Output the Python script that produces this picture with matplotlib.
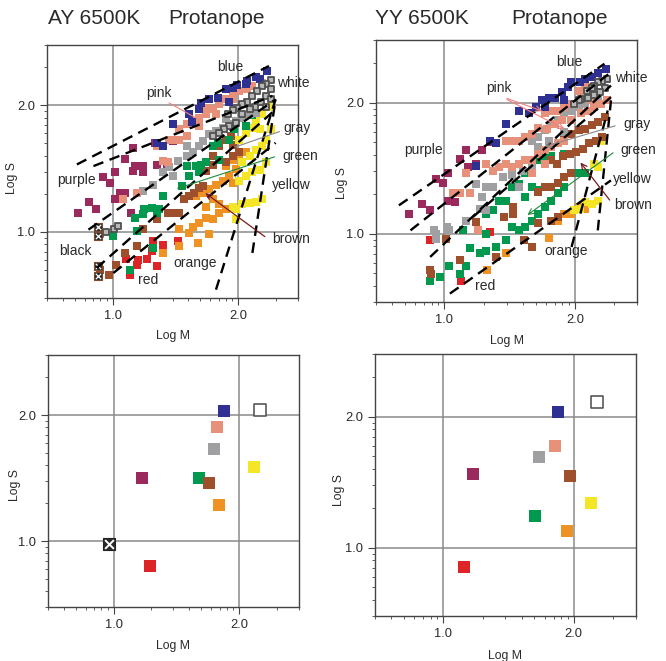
import numpy as np
import matplotlib.pyplot as plt

plt.rcParams['font.family'] = ['Liberation Sans', 'DejaVu Sans']

# ---------------- data (log units) ----------------
# AY 6500K, individual color namings
ay_blue = [(2.23, 2.27), (2.17, 2.21), (2.14, 2.22), (2.07, 2.19), (1.99, 2.16), (1.96, 2.14),
           (1.90, 2.13), (1.84, 2.06), (1.77, 2.05), (1.70, 2.02), (1.69, 1.97), (1.63, 1.87),
           (1.48, 1.85), (1.35, 1.70), (1.40, 1.68), (1.93, 2.03), (1.61, 1.93), (2.06, 2.17)]
ay_pink = [(2.19, 2.18), (2.11, 2.15), (2.07, 2.13), (2.01, 2.11), (1.96, 2.09), (1.90, 2.05),
           (1.85, 2.01), (1.80, 1.97), (1.74, 1.93), (1.69, 1.90), (1.64, 1.88), (1.59, 1.85),
           (1.53, 1.81), (1.49, 1.73), (1.44, 1.55), (1.40, 1.56), (1.19, 1.31), (1.08, 1.26),
           (1.74, 1.98), (1.96, 2.05), (1.82, 1.93), (1.69, 1.84), (1.59, 1.76), (1.53, 1.73),
           (1.45, 1.73), (1.35, 1.68)]
ay_gray = [(2.14, 1.94), (2.09, 1.93), (2.03, 1.90), (1.98, 1.88), (1.93, 1.85), (1.88, 1.82),
           (1.82, 1.80), (1.77, 1.77), (1.72, 1.72), (1.69, 1.68), (1.64, 1.63), (1.59, 1.60),
           (1.52, 1.56), (1.45, 1.51), (1.40, 1.47), (1.32, 1.37), (1.24, 1.32), (1.48, 1.44),
           (1.59, 1.68), (1.90, 1.89)]
ay_white = [(2.26, 2.20), (2.22, 2.17), (2.19, 2.15), (2.15, 2.11), (2.11, 2.07), (2.07, 2.03),
            (2.03, 2.01), (1.99, 1.98), (1.96, 1.96), (1.92, 1.93), (2.26, 2.13), (2.22, 2.07),
            (2.18, 2.03), (2.13, 1.99), (2.09, 1.97), (2.03, 1.93), (1.98, 1.86), (1.93, 1.84),
            (1.89, 1.81), (1.85, 1.78), (1.80, 1.76), (2.26, 2.05), (2.22, 1.99),
            (0.90, 0.98), (0.95, 1.00), (1.01, 1.02), (1.04, 1.05)]
ay_black = [(0.88, 1.04), (0.88, 0.97), (0.88, 0.73), (0.88, 0.65)]
ay_purple = [(0.72, 1.15), (0.81, 1.24), (0.87, 1.18), (0.92, 1.43), (0.98, 1.39), (1.02, 1.47),
             (1.02, 1.26), (1.06, 1.31), (1.10, 1.31), (1.10, 1.58), (1.16, 1.66), (1.18, 1.52),
             (1.16, 1.48), (1.24, 1.52), (1.24, 1.47), (1.35, 1.53), (1.40, 1.56), (1.43, 1.51),
             (1.34, 1.70), (1.39, 1.68), (1.15, 1.15), (1.53, 1.73), (1.48, 1.72)]
ay_green = [(1.00, 0.97), (1.14, 0.70), (1.18, 1.11), (1.24, 1.14), (1.25, 1.18), (1.31, 1.19),
            (1.35, 1.15), (1.37, 1.18), (1.40, 1.28), (1.48, 1.44), (1.55, 1.36), (1.59, 1.52),
            (1.61, 1.44), (1.66, 1.52), (1.70, 1.53), (1.74, 1.55), (1.80, 1.68), (1.84, 1.70),
            (1.93, 1.73), (1.97, 1.81), (2.06, 1.84), (2.11, 1.92), (1.32, 0.87), (1.19, 1.01),
            (1.69, 1.47), (1.85, 1.57)]
ay_yellow = [(2.25, 1.99), (2.19, 1.93), (2.14, 1.88), (2.11, 1.82), (2.06, 1.78), (2.01, 1.73),
             (2.22, 1.73), (2.19, 1.68), (2.14, 1.65), (2.09, 1.60), (2.03, 1.55), (2.22, 1.55),
             (2.17, 1.49), (2.11, 1.47), (2.06, 1.44), (2.01, 1.40), (2.19, 1.26), (2.14, 1.24),
             (2.09, 1.23), (2.03, 1.22), (1.98, 1.18), (1.98, 1.10), (1.96, 1.20), (2.17, 1.81),
             (2.26, 1.81)]
ay_brown = [(1.94, 1.76), (1.90, 1.73), (1.85, 1.68), (1.80, 1.60), (2.01, 1.63), (1.96, 1.60),
            (1.90, 1.55), (1.85, 1.57), (1.80, 1.53), (1.74, 1.48), (1.69, 1.35), (1.65, 1.31),
            (1.61, 1.28), (1.57, 1.26), (1.53, 1.15), (1.48, 1.15), (1.44, 1.15), (1.35, 1.10),
            (1.24, 1.02), (1.19, 0.89), (1.10, 0.83), (1.03, 0.74), (0.97, 0.66), (0.90, 0.70),
            (1.72, 1.36), (1.96, 1.69)]
ay_orange = [(2.06, 1.63), (2.01, 1.60), (1.96, 1.57), (1.90, 1.52), (1.98, 1.50), (1.93, 1.44),
             (1.88, 1.40), (1.82, 1.37), (1.77, 1.34), (1.72, 1.31), (1.66, 1.28), (1.96, 1.39),
             (1.90, 1.18), (1.85, 1.15), (1.80, 1.10), (1.74, 1.11), (1.69, 1.07), (1.64, 1.04),
             (1.61, 0.99), (1.53, 1.02), (1.68, 0.91), (1.53, 0.89), (1.40, 0.83), (1.77, 0.98),
             (1.85, 1.22), (1.80, 1.26), (1.74, 1.20)]
ay_red = [(1.11, 0.79), (1.14, 0.66), (1.20, 0.78), (1.19, 0.74), (1.27, 0.79), (1.31, 0.85),
          (1.35, 0.73), (1.40, 0.90), (1.52, 0.93), (1.32, 0.93)]

# YY 6500K, individual color namings
yy_blue = [(2.24, 2.26), (2.18, 2.23), (2.13, 2.20), (2.08, 2.18), (2.04, 2.16), (1.97, 2.16),
           (1.95, 2.12), (1.90, 2.08), (1.85, 2.04), (1.80, 2.04), (1.75, 2.02), (1.70, 1.97),
           (1.65, 1.92), (1.57, 1.94), (1.47, 1.84), (1.35, 1.71), (1.40, 1.69), (1.24, 1.52),
           (1.92, 2.02), (1.77, 1.97)]
yy_pink = [(2.25, 2.02), (2.20, 1.99), (2.15, 1.97), (2.10, 1.94), (2.05, 1.92), (1.97, 1.87),
           (1.92, 1.97), (1.87, 1.94), (1.82, 1.94), (1.77, 1.92), (1.97, 1.99), (2.03, 2.09),
           (2.08, 2.12), (2.13, 2.12), (1.92, 1.71), (1.87, 1.69), (1.82, 1.66), (1.77, 1.64),
           (1.72, 1.61), (1.67, 1.56), (1.62, 1.56), (1.57, 1.53), (1.52, 1.51), (1.47, 1.53),
           (1.42, 1.51), (1.37, 1.48), (1.32, 1.53), (1.77, 1.53), (1.67, 1.46), (1.62, 1.74),
           (1.57, 1.71), (1.52, 1.71), (1.47, 1.71), (1.17, 1.46), (1.12, 1.31), (1.07, 1.31),
           (1.20, 1.31), (1.26, 1.03), (2.13, 2.02), (1.67, 1.76), (1.72, 1.81), (1.79, 1.80),
           (1.85, 1.84), (1.90, 1.87)]
yy_gray = [(2.18, 2.04), (2.13, 2.02), (2.08, 1.99), (2.03, 1.97), (1.97, 1.94), (1.92, 1.92),
           (1.87, 1.87), (1.82, 1.84), (1.77, 1.79), (1.72, 1.74), (1.67, 1.71), (1.67, 1.51),
           (1.60, 1.48), (1.52, 1.45), (1.45, 1.43), (1.37, 1.36), (1.32, 1.36), (1.24, 1.38),
           (1.32, 1.18), (1.27, 1.19), (1.17, 1.10), (1.04, 1.03), (1.02, 1.05), (0.94, 1.00),
           (0.92, 1.03), (0.94, 0.96), (1.29, 1.28), (1.57, 1.36), (1.72, 1.66), (1.80, 1.71),
           (1.92, 1.78)]
yy_white = [(2.25, 2.18), (2.21, 2.17), (2.18, 2.16), (2.15, 2.13), (2.13, 2.11), (2.09, 2.09),
            (2.23, 2.11), (2.19, 2.08), (2.15, 2.06), (2.10, 2.04), (2.05, 2.03), (2.03, 2.02),
            (1.99, 1.99)]
yy_purple = [(0.73, 1.15), (0.83, 1.23), (0.89, 1.18), (0.94, 1.42), (0.99, 1.39), (1.03, 1.46),
             (1.03, 1.25), (1.08, 1.24), (1.12, 1.57), (1.17, 1.64), (1.18, 1.51), (1.24, 1.53),
             (1.35, 1.70), (1.29, 1.64)]
yy_green = [(1.92, 1.61), (1.82, 1.59), (1.77, 1.59), (1.72, 1.56), (1.67, 1.51), (1.62, 1.46),
            (1.57, 1.38), (1.52, 1.36), (1.47, 1.25), (1.42, 1.25), (1.37, 1.18), (1.32, 1.15),
            (1.67, 1.36), (1.72, 1.33), (1.62, 1.28), (2.08, 1.46), (2.03, 1.46), (1.92, 1.36),
            (1.87, 1.31), (1.82, 1.25), (1.77, 1.20), (1.72, 1.15), (1.67, 1.10), (1.62, 1.05),
            (1.57, 1.03), (1.52, 1.05), (1.47, 0.95), (1.40, 0.90), (1.32, 0.87), (1.27, 0.85),
            (1.20, 0.89), (1.17, 0.75), (1.12, 0.69), (1.04, 0.75), (0.97, 0.67), (0.89, 0.64),
            (1.32, 1.00), (1.14, 1.03)]
yy_brown = [(2.23, 1.89), (2.18, 1.85), (2.13, 1.83), (2.08, 1.80), (2.03, 1.79), (1.97, 1.76),
            (1.92, 1.74), (2.21, 1.74), (2.16, 1.71), (2.11, 1.69), (2.06, 1.65), (2.01, 1.62),
            (1.96, 1.61), (1.91, 1.59), (1.86, 1.53), (1.82, 1.56), (1.97, 1.46), (1.92, 1.43),
            (1.87, 1.39), (1.82, 1.36), (1.77, 1.36), (1.72, 1.32), (1.53, 1.20), (1.46, 1.13),
            (1.53, 1.15), (1.24, 1.09), (1.72, 1.08), (1.82, 1.10), (1.87, 1.13), (1.67, 0.90),
            (1.61, 0.95), (1.40, 0.82), (1.12, 0.80), (0.89, 0.72), (0.90, 0.69), (1.01, 0.96)]
yy_orange = [(1.92, 1.15), (1.97, 1.15), (1.87, 1.10), (1.80, 0.97), (1.47, 0.85), (1.33, 0.72),
             (2.10, 1.23), (2.03, 1.20), (2.08, 1.19)]
yy_yellow = [(2.18, 1.25), (2.13, 1.23), (2.08, 1.24), (2.04, 1.19), (2.20, 1.71), (2.18, 1.51),
             (2.15, 1.53), (1.99, 1.18)]
yy_red = [(1.13, 0.64), (0.89, 0.95), (1.35, 1.01)]

# category means (bottom panels)
cats = ['blue', 'white', 'pink', 'gray', 'yellow', 'purple', 'green', 'brown', 'orange', 'black', 'red']
ay_mean_m = [1.88, 2.17, 1.82, 1.80, 2.12, 1.23, 1.68, 1.76, 1.84, 0.96, 1.29]
ay_mean_s = [2.03, 2.04, 1.91, 1.73, 1.59, 1.50, 1.50, 1.46, 1.29, 0.98, 0.80]
yy_cats = ['blue', 'white', 'pink', 'gray', 'purple', 'brown', 'yellow', 'green', 'orange', 'red']
yy_mean_m = [1.88, 2.18, 1.86, 1.73, 1.23, 1.97, 2.13, 1.70, 1.95, 1.16]
yy_mean_s = [2.04, 2.11, 1.78, 1.69, 1.56, 1.55, 1.34, 1.24, 1.13, 0.85]

# dashed boundary lines
ay_lines = [((0.715, 1.533), (2.245, 2.311)), ((0.847, 1.520), (2.272, 2.074)),
            ((0.807, 1.018), (2.298, 2.047)), ((0.873, 0.715), (2.298, 1.968)),
            ((1.005, 0.675), (2.298, 1.704)), ((1.823, 0.544), (2.298, 2.047)),
            ((2.113, 0.834), (2.298, 2.047))]
yy_lines = [((0.652, 1.216), (2.227, 2.298)), ((0.741, 1.025), (2.277, 2.234)),
            ((0.892, 0.822), (2.277, 2.132)), ((1.219, 1.127), (2.277, 2.043)),
            ((1.043, 0.542), (2.277, 1.407)), ((1.975, 0.898), (2.252, 1.941)),
            ((2.176, 1.025), (2.277, 2.018))]

palette = {'blue': '#2E3192', 'pink': '#E8917A', 'gray': '#A0A0A3', 'white': '#FFFFFF',
           'purple': '#9B2A5C', 'green': '#00994D', 'brown': '#9E4F2B', 'orange': '#EE9224',
           'yellow': '#F4E527', 'red': '#DD2427', 'black': '#262626'}

LO, HI = np.log10(3), np.log10(300)
minor = [np.log10(k * 10.0 ** n) for n in range(0, 3) for k in range(2, 10)]
minor = [v for v in minor if LO - 1e-9 <= v <= HI + 1e-9]

fig = plt.figure(figsize=(6.66, 6.61), dpi=100)
ax_tl = fig.add_axes([0.0706, 0.549, 0.377, 0.383])
ax_tr = fig.add_axes([0.5646, 0.543, 0.392, 0.396])
ax_bl = fig.add_axes([0.072, 0.0817, 0.377, 0.381])
ax_br = fig.add_axes([0.563, 0.068, 0.392, 0.396])

txt = '#2a2a2a'


def style(ax, ylab_pos, xlab_y):
    ax.set_xlim(LO, HI)
    ax.set_ylim(LO, HI)
    ax.set_xticks([1, 2])
    ax.set_yticks([1, 2])
    ax.set_xticks(minor, minor=True)
    ax.set_yticks(minor, minor=True)
    ax.set_xticklabels(['1.0', '2.0'])
    ax.set_yticklabels(['1.0', '2.0'])
    ax.tick_params(which='major', direction='out', length=5, width=0.8, color='#444',
                   labelsize=9.3, labelcolor=txt)
    ax.tick_params(which='minor', direction='out', length=2.5, width=0.6, color='#444')
    for sp in ax.spines.values():
        sp.set_color('#444')
        sp.set_linewidth(1.0)
    ax.grid(True, which='major', color='#8a8a8a', linewidth=1.1)
    ax.set_axisbelow(True)
    ax.set_xlabel('Log M', fontsize=8.8, color=txt)
    ax.set_ylabel('Log S', fontsize=8.8, color=txt)
    ax.yaxis.set_label_coords(ylab_pos[0], ylab_pos[1])
    ax.xaxis.set_label_coords(0.5, xlab_y)


def scatter_group(ax, pts, name, size, bottom=False):
    xs = [p[0] for p in pts]
    ys = [p[1] for p in pts]
    if name == 'white':
        if bottom:
            ax.scatter(xs, ys, s=size, marker='s', facecolor='white', edgecolor='#4a4a4a',
                       linewidth=1.1, zorder=3)
        else:
            ax.scatter(xs, ys, s=size * 0.8, marker='s', facecolor='#b8b8b8',
                       edgecolor='#505050', linewidth=1.3, zorder=3)
    elif name == 'black':
        edge = '#222222' if bottom else '#7a4a2a'
        ax.scatter(xs, ys, s=size, marker='s', facecolor='#2a2a2a', edgecolor=edge,
                   linewidth=0.8, zorder=3)
        ax.scatter(xs, ys, s=size * 0.5, marker='x', color='white',
                   linewidth=1.4 if bottom else 0.9, zorder=4)
    else:
        ax.scatter(xs, ys, s=size, marker='s', color=palette[name], linewidth=0, zorder=3)


def draw_lines(ax, lines):
    for (x0, y0), (x1, y1) in lines:
        ax.plot([x0, x1], [y0, y1], color='black', linewidth=1.7,
                linestyle=(0, (4.5, 2.8)), zorder=5)


top_size = 30
ay_groups = [('purple', ay_purple), ('red', ay_red), ('orange', ay_orange), ('brown', ay_brown),
             ('yellow', ay_yellow), ('green', ay_green), ('gray', ay_gray), ('pink', ay_pink),
             ('blue', ay_blue), ('white', ay_white), ('black', ay_black)]
for name, pts in ay_groups:
    scatter_group(ax_tl, pts, name, top_size)
draw_lines(ax_tl, ay_lines)

yy_groups = [('purple', yy_purple), ('red', yy_red), ('orange', yy_orange), ('yellow', yy_yellow),
             ('green', yy_green), ('brown', yy_brown), ('gray', yy_gray), ('pink', yy_pink),
             ('blue', yy_blue), ('white', yy_white)]
for name, pts in yy_groups:
    scatter_group(ax_tr, pts, name, top_size)
draw_lines(ax_tr, yy_lines)

for name, m, s in zip(cats, ay_mean_m, ay_mean_s):
    scatter_group(ax_bl, [(m, s)], name, 80, bottom=True)
for name, m, s in zip(yy_cats, yy_mean_m, yy_mean_s):
    scatter_group(ax_br, [(m, s)], name, 80, bottom=True)

style(ax_tl, (-0.116, 0.474), -0.125)
style(ax_tr, (-0.107, 0.454), -0.125)
style(ax_bl, (-0.108, 0.484), -0.13)
style(ax_br, (-0.115, 0.48), -0.13)

# labels in the top panels
lab = dict(fontsize=10, color=txt, zorder=6)
ax_tl.text(1.94, 2.30, 'blue', ha='center', va='center', **lab)
ax_tl.text(2.31, 2.18, 'white', ha='left', va='center', **lab)
ax_tl.text(1.37, 2.10, 'pink', ha='center', va='center', **lab)
ax_tl.text(2.36, 1.82, 'gray', ha='left', va='center', **lab)
ax_tl.text(2.35, 1.60, 'green', ha='left', va='center', **lab)
ax_tl.text(2.27, 1.37, 'yellow', ha='left', va='center', **lab)
ax_tl.text(2.27, 0.945, 'brown', ha='left', va='center', **lab)
ax_tl.text(0.71, 1.41, 'purple', ha='center', va='center', **lab)
ax_tl.text(0.70, 0.85, 'black', ha='center', va='center', **lab)
ax_tl.text(1.66, 0.755, 'orange', ha='center', va='center', **lab)
ax_tl.text(1.28, 0.62, 'red', ha='center', va='center', **lab)

ax_tl.annotate('', xy=(1.70, 1.88), xytext=(1.43, 2.03),
               arrowprops=dict(arrowstyle='-', color='#F08080', lw=0.8), zorder=6)
ax_tl.annotate('', xy=(1.96, 1.665), xytext=(2.35, 1.80),
               arrowprops=dict(arrowstyle='-', color='#888888', lw=0.8), zorder=6)
ax_tl.annotate('', xy=(1.49, 1.335), xytext=(2.31, 1.60),
               arrowprops=dict(arrowstyle='->', color='#1f8a3a', lw=0.8), zorder=6)
ax_tl.annotate('', xy=(1.72, 1.32), xytext=(2.23, 0.95),
               arrowprops=dict(arrowstyle='->', color='#7a1c1c', lw=0.9), zorder=6)

ax_tr.text(1.96, 2.31, 'blue', ha='center', va='center', **lab)
ax_tr.text(2.31, 2.19, 'white', ha='left', va='center', **lab)
ax_tr.text(1.42, 2.11, 'pink', ha='center', va='center', **lab)
ax_tr.text(2.37, 1.84, 'gray', ha='left', va='center', **lab)
ax_tr.text(0.84, 1.64, 'purple', ha='center', va='center', **lab)
ax_tr.text(2.35, 1.64, 'green', ha='left', va='center', **lab)
ax_tr.text(2.29, 1.42, 'yellow', ha='left', va='center', **lab)
ax_tr.text(2.30, 1.22, 'brown', ha='left', va='center', **lab)
ax_tr.text(1.93, 0.87, 'orange', ha='center', va='center', **lab)
ax_tr.text(1.31, 0.60, 'red', ha='center', va='center', **lab)

ax_tr.annotate('', xy=(1.77, 1.93), xytext=(1.46, 2.04),
               arrowprops=dict(arrowstyle='->', color='#F08080', lw=0.8), zorder=6)
ax_tr.annotate('', xy=(1.94, 1.79), xytext=(1.46, 2.035),
               arrowprops=dict(arrowstyle='->', color='#F08080', lw=0.8), zorder=6)
ax_tr.annotate('', xy=(1.75, 1.66), xytext=(2.33, 1.83),
               arrowprops=dict(arrowstyle='->', color='#888888', lw=0.8), zorder=6)
ax_tr.annotate('', xy=(1.62, 1.13), xytext=(2.31, 1.63),
               arrowprops=dict(arrowstyle='->', color='#1f8a3a', lw=0.8), zorder=6)
ax_tr.annotate('', xy=(2.03, 1.56), xytext=(2.28, 1.24),
               arrowprops=dict(arrowstyle='->', color='#7a1c1c', lw=0.9), zorder=6)

# panel titles
fig.text(48 / 666, 1 - 19 / 661, 'AY 6500K', fontsize=15, color=txt, ha='left', va='center')
fig.text(168 / 666, 1 - 19 / 661, 'Protanope', fontsize=15, color=txt, ha='left', va='center')
fig.text(375 / 666, 1 - 18 / 661, 'YY 6500K', fontsize=15, color=txt, ha='left', va='center')
fig.text(511 / 666, 1 - 18 / 661, 'Protanope', fontsize=15, color=txt, ha='left', va='center')

fig.savefig('out.png', dpi=100)
